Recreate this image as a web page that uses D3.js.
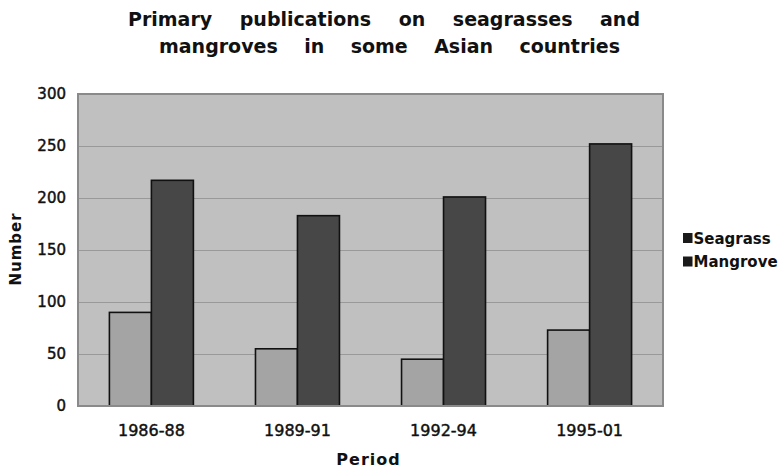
<!DOCTYPE html>
<html>
<head>
<meta charset="utf-8">
<script src="https://cdn.jsdelivr.net/npm/d3@7"></script>
<style>
  html, body { margin: 0; padding: 0; background: #fff; }
  svg { display: block; }
</style>
</head>
<body>
<svg id="chart" width="778" height="472"></svg>
<script>
// ---- data ----
const periods = ["1986-88", "1989-91", "1992-94", "1995-01"];
const seriesNames = ["Seagrass", "Mangrove"];
const seagrass = [90, 55, 45, 73];
const mangrove = [217, 183, 201, 252];
const yTicks = [0, 50, 100, 150, 200, 250, 300];
const titleLines = ["Primary publications on seagrasses and", "mangroves in some Asian countries"];

(function () {
// ---- layout ----
const svg = d3.select("#chart");
const pL = 78, pR = 663, pT = 94, pB = 406;
const fills = ["#a4a4a4", "#474747"];

const x = d3.scaleBand().domain(periods).range([pL, pR])
  .paddingInner(0.425).paddingOuter(0.215);
const xs = d3.scaleBand().domain(seriesNames).range([0, x.bandwidth()]);
const y = d3.scaleLinear().domain([0, 300]).range([pB, pT]);

// plot background
svg.append("rect").attr("x", pL).attr("y", pT)
  .attr("width", pR - pL).attr("height", pB - pT)
  .attr("fill", "#c0c0c0");

// gridlines
svg.append("g")
  .attr("transform", `translate(${pL},0)`)
  .call(d3.axisLeft(y).tickValues(yTicks).tickSize(-(pR - pL)).tickFormat(""))
  .call(g => g.select(".domain").remove())
  .call(g => g.selectAll("line").attr("stroke", "#999").attr("stroke-width", 1.2));

// bars
const rows = periods.map((p, i) => ({ period: p, values: [seagrass[i], mangrove[i]] }));
const groups = svg.append("g").selectAll("g").data(rows).join("g")
  .attr("transform", d => `translate(${x(d.period)},0)`);
groups.selectAll("rect").data(d => d.values.map((v, j) => ({ name: seriesNames[j], v, j })))
  .join("rect")
  .attr("x", d => xs(d.name))
  .attr("y", d => y(d.v))
  .attr("width", xs.bandwidth())
  .attr("height", d => y(0) - y(d.v))
  .attr("fill", d => fills[d.j])
  .attr("stroke", "#111")
  .attr("stroke-width", 1.6);

// plot border
svg.append("rect").attr("x", pL).attr("y", pT)
  .attr("width", pR - pL).attr("height", pB - pT)
  .attr("fill", "none").attr("stroke", "#8a8a8a").attr("stroke-width", 2);

// y axis labels
const yAxis = svg.append("g")
  .attr("transform", `translate(${pL},0)`)
  .call(d3.axisLeft(y).tickValues(yTicks).tickSize(0).tickPadding(12))
  .call(g => g.select(".domain").remove());
yAxis.selectAll("text")
  .attr("font-family", "DejaVu Sans").attr("font-size", 15)
  .attr("fill", "#111").attr("stroke", "#111").attr("stroke-width", 0.45);

// x axis labels
const xAxis = svg.append("g")
  .attr("transform", `translate(0,${pB})`)
  .call(d3.axisBottom(x).tickSize(0).tickPadding(19))
  .call(g => g.select(".domain").remove());
xAxis.selectAll("text")
  .attr("font-family", "DejaVu Sans").attr("font-size", 16)
  .attr("fill", "#111").attr("stroke", "#111").attr("stroke-width", 0.45);

// axis titles
svg.append("text")
  .attr("x", (pL + pR) / 2 - 2).attr("y", 465)
  .attr("text-anchor", "middle")
  .attr("font-family", "DejaVu Sans").attr("font-weight", "bold").attr("font-size", 16)
  .attr("letter-spacing", 1)
  .attr("fill", "#111")
  .text("Period");

svg.append("text")
  .attr("transform", `translate(21,${(pT + pB) / 2 - 1}) rotate(-90)`)
  .attr("text-anchor", "middle")
  .attr("font-family", "DejaVu Sans").attr("font-weight", "bold").attr("font-size", 15)
  .attr("letter-spacing", 1)
  .attr("fill", "#111")
  .text("Number");

// title
const titleTargets = [[128, 640], [159, 620]];
const titleBase = [26, 53];
titleLines.forEach((line, i) => {
  const t = svg.append("text")
    .attr("x", (titleTargets[i][0] + titleTargets[i][1]) / 2)
    .attr("y", titleBase[i])
    .attr("text-anchor", "middle")
    .attr("font-family", "DejaVu Sans").attr("font-weight", "bold").attr("font-size", 19)
    .attr("fill", "#111")
    .text(line);
  const w = t.node().getComputedTextLength();
  const spaces = line.split(" ").length - 1;
  const target = titleTargets[i][1] - titleTargets[i][0];
  const ws = Math.max(0, (target - w) / spaces);
  t.attr("word-spacing", ws);
});

// legend
const legend = svg.append("g").selectAll("g").data(seriesNames).join("g")
  .attr("transform", (d, i) => `translate(683,${233 + i * 23.5})`);
legend.append("rect").attr("width", 9.5).attr("height", 10).attr("fill", "#1a1a1a");
legend.append("text")
  .attr("x", 10.5).attr("y", 10.5)
  .attr("font-family", "DejaVu Sans").attr("font-weight", "bold").attr("font-size", 15)
  .attr("fill", "#111")
  .text(d => d);
})();
</script>
</body>
</html>
